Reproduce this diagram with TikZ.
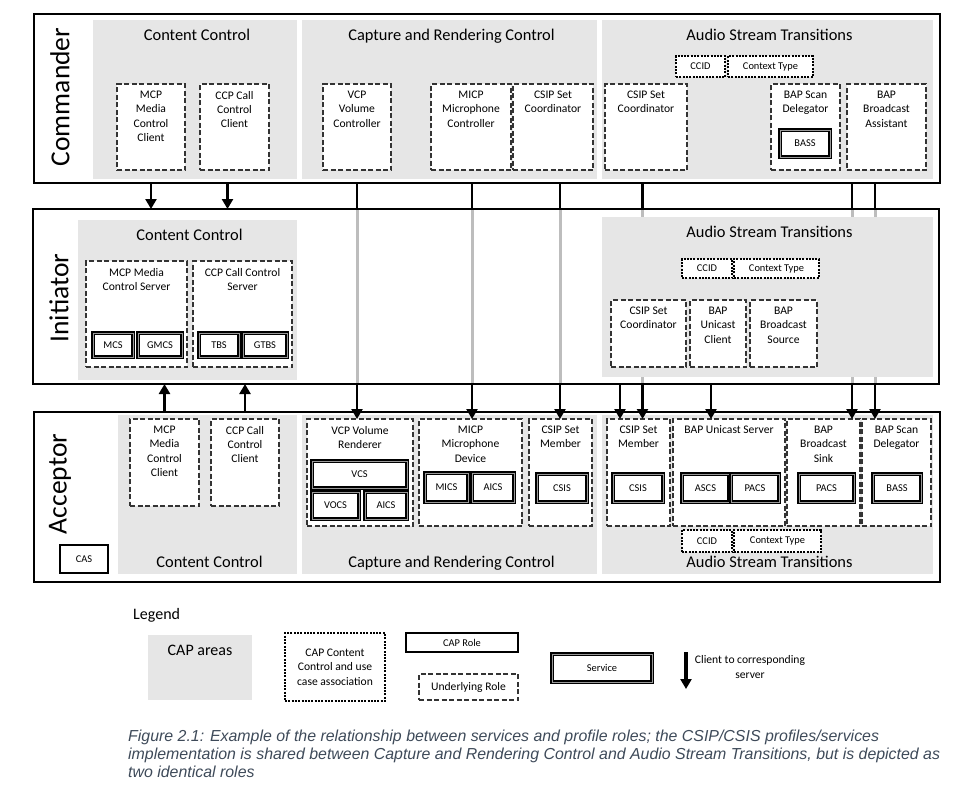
\documentclass[tikz,border=0pt]{standalone}
\usepackage{fontspec}
\setmainfont{Carlito}
\newfontfamily\capfam{Liberation Sans}
\usepackage{tikz}
\usetikzlibrary{arrows.meta,positioning}
\definecolor{areagray}{HTML}{E6E6E6}
\definecolor{linegray}{HTML}{BDBDBD}
\definecolor{capblue}{HTML}{3E4A59}
\newcommand\bxfont{\fontsize{11.6}{14.4}\selectfont}
\newcommand\smfont{\fontsize{10.4}{12}\selectfont}
\newcommand\arfont{\fontsize{16.4}{19}\selectfont}
\newcommand\lgfont{\fontsize{16}{19}\selectfont}
\newcommand\rwfont{\fontsize{27.5}{32}\selectfont}

\begin{document}
\begin{tikzpicture}[x=1pt,y=-1pt,font=\bxfont,
 sz/.style 2 args={minimum width=#1pt,minimum height=#2pt},
 frame/.style={draw,line width=2.4pt,fill=white,inner sep=0pt,outer sep=0pt},
 area/.style={fill=areagray,inner sep=0pt,outer sep=0pt},
 areattl/.style={anchor=north,xshift=2pt,yshift=-8.5pt,inner sep=0pt,font=\arfont,text height=12pt,text depth=4pt},
 areabot/.style={anchor=south,xshift=2pt,yshift=2.8pt,inner sep=0pt,font=\arfont,text height=12pt,text depth=4pt},
 under/.style={draw=black!80,line width=1.8pt,dash pattern=on 5pt off 2.5pt,fill=white,inner sep=0pt,outer sep=0pt},
 usecase/.style={draw,line width=2pt,dash pattern=on 2pt off 1.3pt,fill=white,inner sep=0pt,outer sep=0pt,font=\smfont},
 service/.style={draw,line width=1.3pt,double=black!40,double distance=1pt,fill=white,inner sep=0pt,outer sep=0pt,font=\smfont},
 caprole/.style={draw,line width=2pt,fill=white,inner sep=0pt,outer sep=0pt,font=\smfont},
 ttl/.style={anchor=north,yshift=-6.8pt,inner sep=0pt,align=center,font=\bxfont},
 rowlbl/.style={rotate=90,font=\rwfont,inner sep=0pt},
 flow/.style={line width=2.8pt,-{Triangle[length=10pt,width=11pt]}},
 link/.style={line width=2.8pt},
 thru/.style={line width=3pt,linegray,shorten <=1.2pt,shorten >=1.2pt}]
\useasboundingbox (0,0) rectangle (959,790);

% the three device frames
\node[frame,sz={906}{169}] (commander) at (487,98.5) {};
\node[frame,sz={906}{175}] (initiator) at (486,296.5) {};
\node[frame,sz={906}{170}] (acceptor) at (487,497) {};
\node[rowlbl] (lcommander) at (60,97) {Commander};
\node[rowlbl] (linitiator) at (59,298) {Initiator};
\node[rowlbl] (lacceptor) at (60,484) {Acceptor};

% Commander
\node[area,sz={204}{159},label={[areattl]above:Content Control}] (cmdcc) at (195,99.5) {};
\node[area,sz={295}{159},label={[areattl]above:Capture and Rendering Control}] (cmdcr) at (449.5,99.5) {};
\node[area,sz={331}{159},label={[areattl]above:Audio Stream Transitions}] (cmdast) at (767.5,99.5) {};
\node[under,sz={68}{86},label={[ttl]above:MCP\\Media\\Control\\Client}] (cmcp) at (151,127) {};
\node[under,sz={69}{86},label={[ttl]above:CCP Call\\Control\\Client}] (cccp) at (234.5,127) {};
\node[under,sz={68}{86},label={[ttl]above:VCP\\Volume\\Controller}] (cvcp) at (357,127) {};
\node[under,sz={80}{86},label={[ttl]above:MICP\\Microphone\\Controller}] (cmicp) at (471,127) {};
\node[under,sz={80}{86},right=2pt of cmicp,label={[ttl]above:CSIP Set\\Coordinator}] (ccsip) {};
\node[under,sz={82}{86},label={[ttl]above:CSIP Set\\Coordinator}] (ccsip2) at (646,127) {};
\node[usecase,sz={49}{21}] (cccid) at (700.5,66.5) {CCID};
\node[usecase,sz={85}{21},right=3pt of cccid] (cctx) {Context Type};
\node[under,sz={69}{86},label={[ttl]above:BAP Scan\\Delegator}] (cscan) at (805.5,127) {};
\node[service,sz={50}{27}] (cbass) at (805,143.5) {BASS};
\node[under,sz={79}{86},label={[ttl]above:BAP\\Broadcast\\Assistant}] (cba) at (886.5,127) {};

% links passing through the Initiator
\draw[thru] (cvcp.south |- initiator.north) -- (cvcp.south |- initiator.south);
\draw[thru] ([xshift=1]cmicp.south |- initiator.north) -- ([xshift=1]cmicp.south |- initiator.south);
\draw[thru] ([xshift=7]ccsip.south |- initiator.north) -- ([xshift=7]ccsip.south |- initiator.south);
\draw[thru] ([xshift=-3.5]ccsip2.south |- initiator.north) -- ([xshift=-3.5]ccsip2.south |- initiator.south);
\draw[thru] ([xshift=-34.5]cba.south |- initiator.north) -- ([xshift=-34.5]cba.south |- initiator.south);
\draw[thru] ([xshift=-11.5]cba.south |- initiator.north) -- ([xshift=-11.5]cba.south |- initiator.south);

% Initiator
\node[area,sz={219}{160},label={[areattl]above:Content Control}] (inicc) at (187.5,300) {};
\node[area,sz={331}{160},label={[areattl]above:Audio Stream Transitions}] (iniast) at (767.5,297) {};
\node[under,sz={101}{106},label={[ttl]above:MCP Media\\Control Server}] (imcp) at (136.5,314) {};
\node[under,sz={99}{106},label={[ttl]above:CCP Call Control\\Server}] (iccp) at (242.5,314) {};
\node[service,sz={40}{24}] (imcs) at (113,345) {MCS};
\node[service,sz={44}{24},right=5pt of imcs] (igmcs) {GMCS};
\node[service,sz={40}{24}] (itbs) at (219,345) {TBS};
\node[service,sz={44}{24},right=4pt of itbs] (igtbs) {GTBS};
\node[usecase,sz={50}{19}] (iccid) at (707,268.5) {CCID};
\node[usecase,sz={85}{19},right=2pt of iccid] (ictx) {Context Type};
\node[under,sz={75}{67},label={[ttl]above:CSIP Set\\Coordinator}] (icsip) at (648.5,333.5) {};
\node[under,sz={56}{67},right=4pt of icsip,label={[ttl]above:BAP\\Unicast\\Client}] (iuc) {};
\node[under,sz={67}{67},right=4pt of iuc,label={[ttl]above:BAP\\Broadcast\\Source}] (ibs) {};

% Acceptor
\node[area,sz={179}{159},label={[areabot]below:Content Control}] (acccc) at (207.5,494.5) {};
\node[area,sz={295}{159},label={[areabot]below:Capture and Rendering Control}] (acccr) at (449.5,494.5) {};
\node[area,sz={331}{159},label={[areabot]below:Audio Stream Transitions}] (accast) at (767.5,494.5) {};
\node[caprole,sz={48}{28}] (acas) at (84,559) {CAS};
\node[under,sz={69}{87},label={[ttl]above:MCP\\Media\\Control\\Client}] (amcp) at (164.5,462.5) {};
\node[under,sz={68}{87},label={[ttl]above:CCP Call\\Control\\Client}] (accp) at (245,462.5) {};
\node[under,sz={106}{107},label={[ttl]above:VCP Volume\\Renderer}] (avcp) at (360,472.5) {};
\node[service,sz={95}{27}] (avcs) at (359.5,474.5) {VCS};
\node[service,sz={47}{27}] (avocs) at (335.5,505.5) {VOCS};
\node[service,sz={42}{27}] (aaics) at (386,505.5) {AICS};
\node[under,sz={103}{107},label={[ttl]above:MICP\\Microphone\\Device}] (amicp) at (470.5,472.5) {};
\node[service,sz={43}{29}] (amics) at (446.5,487.5) {MICS};
\node[service,sz={42}{29}] (aaics2) at (493,487.5) {AICS};
\node[under,sz={63}{107},label={[ttl]above:CSIP Set\\Member}] (acsip) at (560.5,472.5) {};
\node[service,sz={50}{28}] (acsis) at (562,488) {CSIS};
\node[under,sz={63}{107},label={[ttl]above:CSIP Set\\Member}] (acsip2) at (638.5,472.5) {};
\node[service,sz={50}{28}] (acsis2) at (638,488) {CSIS};
\node[under,sz={112}{107},label={[ttl]above:BAP Unicast Server}] (auc) at (729,472.5) {};
\node[service,sz={47}{28}] (aascs) at (705.5,488) {ASCS};
\node[service,sz={48}{28}] (apacs) at (755,488) {PACS};
\node[under,sz={73}{107},label={[ttl]above:BAP\\Broadcast\\Sink}] (abs) at (823.5,472.5) {};
\node[service,sz={55}{28}] (apacs2) at (826.5,488) {PACS};
\node[under,sz={69}{107},label={[ttl]above:BAP Scan\\Delegator}] (ascan) at (896.5,472.5) {};
\node[service,sz={48}{28}] (abass) at (897,488) {BASS};
\node[usecase,sz={50}{22}] (accid) at (707,541) {CCID};
\node[usecase,sz={87}{22},right=2pt of accid] (actx) {Context Type};

% client to server links
\draw[flow] (cmcp.south |- commander.south) -- (cmcp.south |- initiator.north);
\draw[flow] ([xshift=-7]cccp.south |- commander.south) -- ([xshift=-7]cccp.south |- initiator.north);
\draw[flow] (amcp.north |- acceptor.north) -- (amcp.north |- initiator.south);
\draw[flow] (accp.north |- acceptor.north) -- (accp.north |- initiator.south);
\draw[link] (cvcp.south |- commander.south) -- (cvcp.south |- initiator.north);
\draw[link] ([xshift=1]cmicp.south |- commander.south) -- ([xshift=1]cmicp.south |- initiator.north);
\draw[link] ([xshift=7]ccsip.south |- commander.south) -- ([xshift=7]ccsip.south |- initiator.north);
\draw[link] ([xshift=-3.5]ccsip2.south |- commander.south) -- ([xshift=-3.5]ccsip2.south |- initiator.north);
\draw[link] ([xshift=-34.5]cba.south |- commander.south) -- ([xshift=-34.5]cba.south |- initiator.north);
\draw[link] ([xshift=-11.5]cba.south |- commander.south) -- ([xshift=-11.5]cba.south |- initiator.north);
\draw[flow] (cvcp.south |- initiator.south) -- (cvcp.south |- avcp.north);
\draw[flow] ([xshift=1]cmicp.south |- initiator.south) -- ([xshift=1]cmicp.south |- amicp.north);
\draw[flow] ([xshift=7]ccsip.south |- initiator.south) -- ([xshift=7]ccsip.south |- acsip.north);
\draw[flow] ([xshift=-28.5]icsip.south |- initiator.south) -- ([xshift=-28.5]icsip.south |- acsip2.north);
\draw[flow] ([xshift=-3.5]ccsip2.south |- initiator.south) -- ([xshift=-3.5]ccsip2.south |- acsip2.north);
\draw[flow] ([xshift=-7]iuc.south |- initiator.south) -- ([xshift=-7]iuc.south |- auc.north);
\draw[flow] ([xshift=-34.5]cba.south |- initiator.south) -- ([xshift=-34.5]cba.south |- abs.north);
\draw[flow] ([xshift=-11.5]cba.south |- initiator.south) -- ([xshift=-11.5]cba.south |- ascan.north);

% legend
\node[anchor=west,font=\lgfont,inner sep=0pt] (lgtitle) at (133,615) {Legend};
\node[area,sz={104}{65},label={[anchor=north,yshift=-10pt,inner sep=0pt,font=\lgfont]above:CAP areas}] (lgarea) at (200,667.5) {};
\node[usecase,sz={100}{68},align=center,font=\bxfont] (lgcase) at (335,667) {CAP Content\\Control and use\\case association};
\node[caprole,sz={112}{19}] (lgrole) at (462,642.5) {CAP Role};
\node[under,sz={99}{26}] (lgunder) at (468.5,687) {Underlying Role};
\node[service,sz={100}{28}] (lgserv) at (602,668) {Service};
\coordinate (lgtop) at (686,652);
\coordinate (lgbot) at (686,689);
\draw[flow,line width=3.5pt] (lgtop) -- (lgbot);
\node[align=center,inner sep=0pt] (lgclient) at (750,667) {Client to corresponding\\server};

\node[anchor=north west,align=left,inner sep=0pt,text=capblue,font=\capfam\itshape\fontsize{15.9}{18}\selectfont] (caption) at (128,729.5) {Figure 2.1: Example of the relationship between services and profile roles; the CSIP/CSIS profiles/services\\implementation is shared between Capture and Rendering Control and Audio Stream Transitions, but is depicted as\\two identical roles};
\end{tikzpicture}
\end{document}
